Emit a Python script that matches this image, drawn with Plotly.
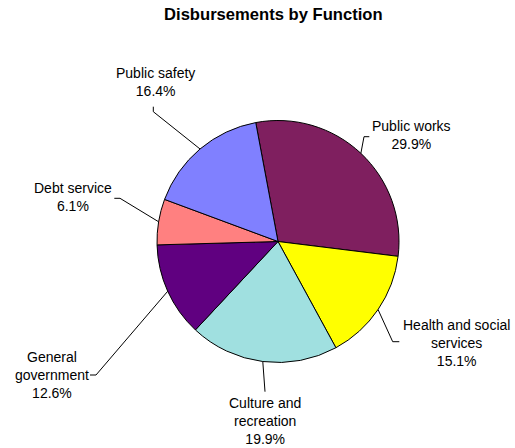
import math
import plotly.graph_objects as go

# ---- data ----
labels = ["Public works", "Health and social services", "Culture and recreation",
          "General government", "Debt service", "Public safety"]
text_labels = ["Public works", "Health and social<br>services", "Culture and<br>recreation",
               "General<br>government", "Debt service", "Public safety"]
values = [29.9, 15.1, 19.9, 12.6, 6.1, 16.4]
colors = ["#7F1F5F", "#FFFF00", "#A0E0E0", "#600080", "#FF8080", "#8080FF"]

W, H = 515, 448
CX, CY, R = 278, 241.5, 121
ROT = -10.6

# label block centers (px) and leader-line elbow points (px)
label_pos = [(411.7, 135), (456, 343), (265, 421), (51.5, 375), (73, 197.3), (155, 82)]
elbows = [
    [(364, 136.7), (369.3, 136.7)],
    [(392.7, 341.7), (399.3, 341.7)],
    [(265, 391.7)],
    [(96, 375), (90, 375)],
    [(120, 198.3), (114.3, 198.3)],
    [(153.3, 111.7), (153.3, 106.7)],
]

def px(x, y):
    return x / W, 1 - y / H

fig = go.Figure(go.Pie(
    labels=labels, values=values, sort=False, direction="clockwise",
    rotation=ROT, textinfo="none", hoverinfo="label+percent",
    marker=dict(colors=colors, line=dict(color="black", width=1)),
    domain=dict(x=[(CX - R) / W, (CX + R) / W], y=[1 - (CY + R) / H, 1 - (CY - R) / H]),
    showlegend=False,
))

total = sum(values)
cum = 0.0
shapes = []
annotations = []
for i, v in enumerate(values):
    mid = ROT + (cum + v / 2) / total * 360
    cum += v
    a = math.radians(mid)
    ex, ey = CX + R * math.sin(a), CY - R * math.cos(a)
    pts = [(ex, ey)] + elbows[i]
    path = "M " + " L ".join(f"{px(x, y)[0]},{px(x, y)[1]}" for x, y in pts)
    shapes.append(dict(type="path", xref="paper", yref="paper", path=path,
                       line=dict(color="black", width=1)))
    lx, ly = px(*label_pos[i])
    annotations.append(dict(
        x=lx, y=ly, xref="paper", yref="paper", showarrow=False,
        text=f"{text_labels[i]}<br>{v:.1f}%", align="center",
        xanchor="center", yanchor="middle",
        font=dict(family="Liberation Sans, Arial", size=14, color="black"),
    ))

fig.update_layout(
    width=W, height=H,
    margin=dict(l=0, r=0, t=0, b=0),
    paper_bgcolor="white", plot_bgcolor="white",
    title=dict(text="<b>Disbursements by Function</b>", x=273.3 / W, y=1 - 14.5 / H,
               xanchor="center", yanchor="middle",
               font=dict(family="Liberation Sans, Arial", size=16.6, color="black")),
    shapes=shapes, annotations=annotations,
)

fig.write_html("out.html")
